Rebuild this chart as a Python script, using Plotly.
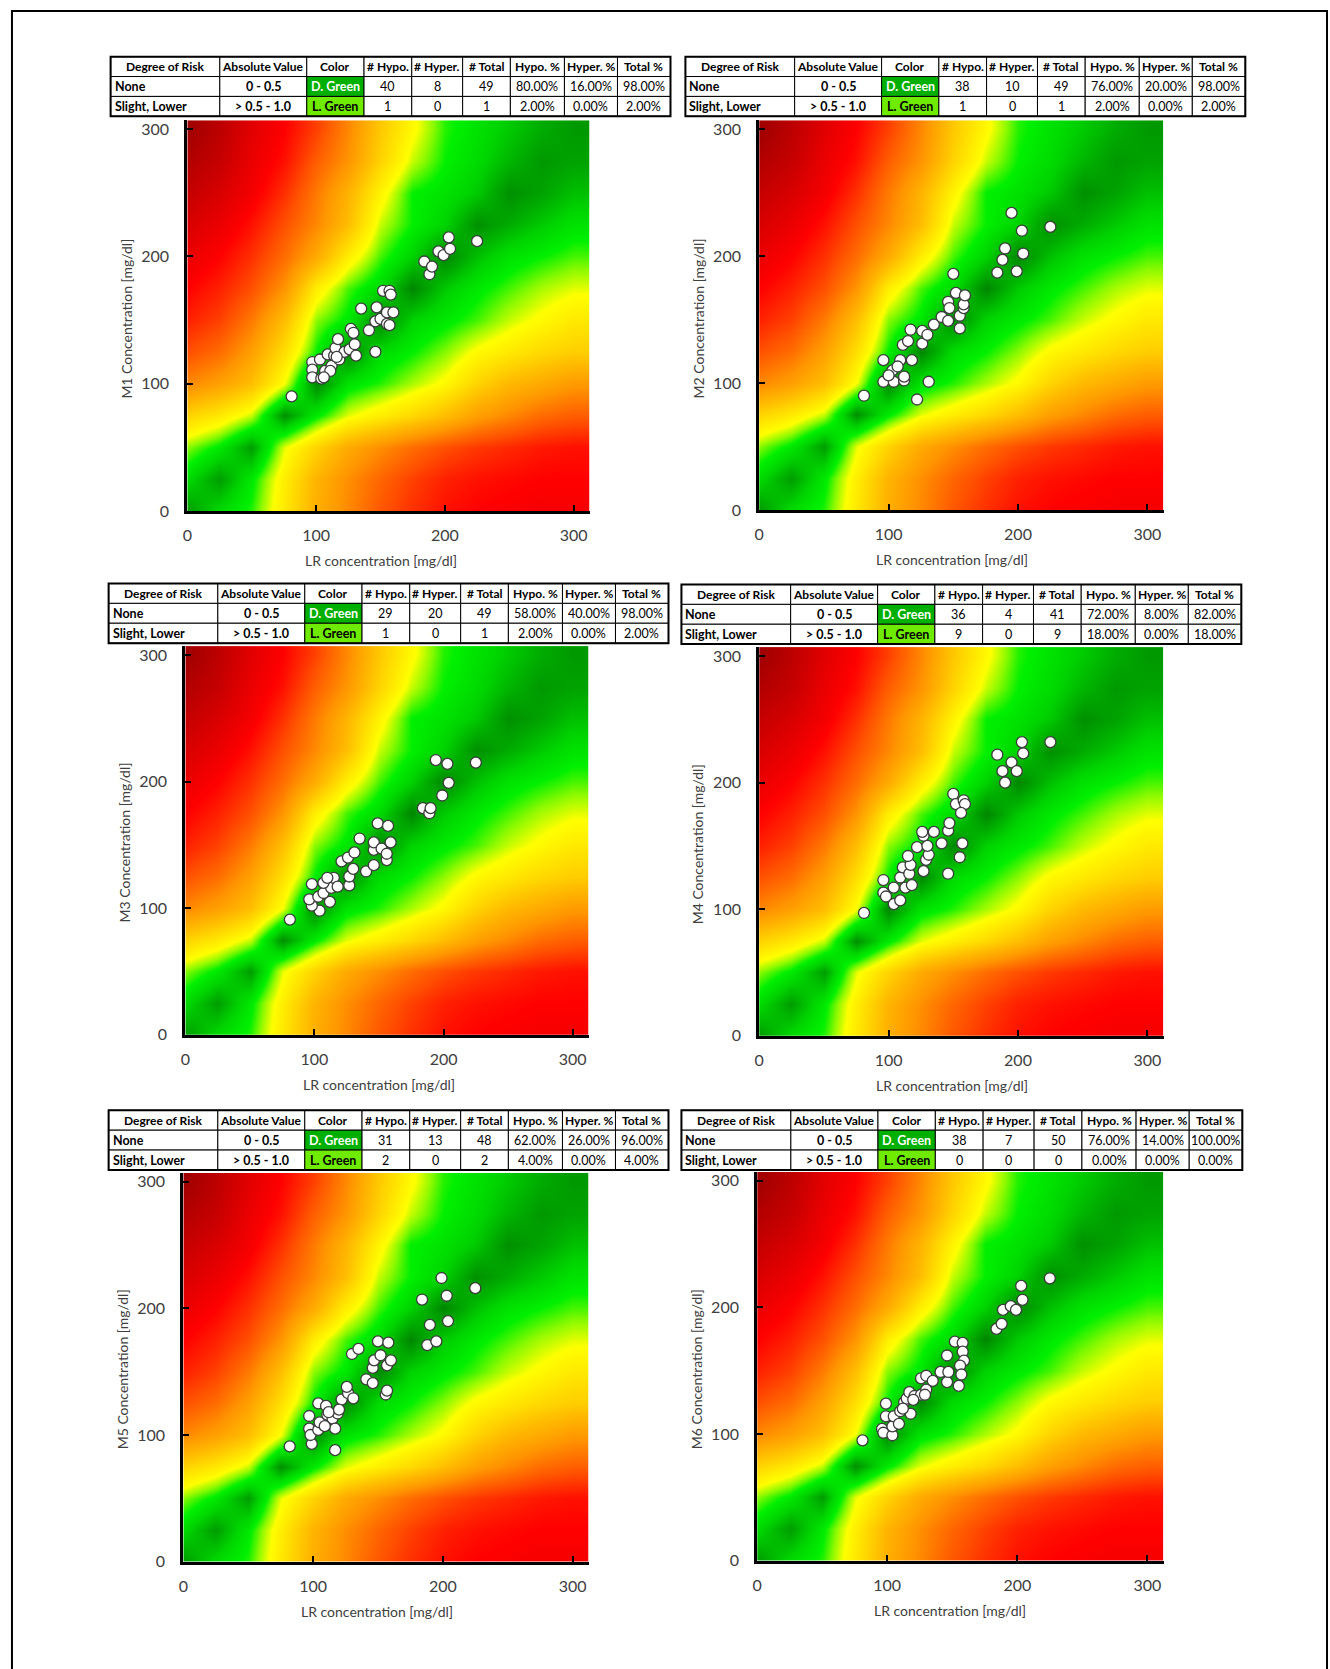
import plotly.graph_objects as go

W, H = 1330, 1669

# ---------------- data ----------------
models = ["M1", "M2", "M3", "M4", "M5", "M6"]

m1_x = [81, 97, 97, 97, 103, 104, 107, 109, 112, 114, 115, 117, 118, 122, 126, 127, 129, 130, 131, 135, 141, 146, 146, 147, 150, 152, 155, 155, 157, 158, 160, 157, 184, 188, 190, 195, 199, 203, 204, 225, 116, 111, 106]
m1_y = [90, 117, 111, 105, 119, 104, 110, 123, 114, 122, 128, 135, 119, 125, 127, 143, 140, 131, 122, 159, 142, 125, 149, 160, 151, 173, 147, 156, 173, 170, 156, 146, 196, 186, 192, 204, 201, 215, 206, 212, 121, 110, 105]

m2_x = [81, 122, 96, 104, 112, 131, 96, 109, 118, 103, 112, 111, 115, 117, 126, 126, 130, 135, 141, 146, 146, 147, 150, 152, 155, 155, 158, 158, 159, 184, 188, 190, 199, 204, 203, 195, 225, 100, 107]
m2_y = [90, 87, 101, 101, 102, 101, 118, 118, 118, 110, 105, 130, 133, 142, 141, 131, 138, 146, 152, 149, 164, 159, 186, 171, 153, 143, 159, 162, 169, 187, 197, 206, 188, 202, 220, 234, 223, 106, 113]

m3_x = [81, 104, 98, 96, 103, 112, 98, 107, 113, 115, 118, 127, 127, 130, 121, 126, 131, 135, 140, 146, 146, 146, 152, 149, 157, 159, 156, 156, 184, 189, 190, 199, 204, 194, 203, 225, 107, 110]
m3_y = [91, 98, 102, 107, 109, 105, 119, 112, 116, 124, 117, 118, 125, 131, 137, 140, 144, 155, 129, 134, 146, 152, 147, 167, 165, 152, 138, 143, 179, 175, 179, 189, 199, 217, 214, 215, 120, 124]

m4_x = [81, 96, 96, 98, 104, 109, 104, 109, 111, 113, 118, 116, 117, 115, 122, 127, 129, 131, 130, 127, 135, 126, 141, 146, 146, 147, 155, 157, 150, 152, 158, 159, 156, 184, 188, 190, 195, 199, 204, 203, 225]
m4_y = [97, 113, 123, 110, 104, 107, 117, 125, 133, 117, 119, 128, 135, 142, 149, 130, 139, 143, 150, 158, 161, 161, 152, 128, 162, 168, 141, 152, 191, 183, 186, 183, 176, 222, 209, 200, 216, 209, 223, 232, 232]

m5_x = [82, 99, 117, 97, 98, 104, 105, 97, 104, 110, 111, 115, 119, 117, 109, 122, 127, 131, 126, 130, 135, 141, 146, 146, 147, 152, 150, 158, 157, 160, 156, 157, 184, 188, 190, 195, 204, 203, 199, 225, 112, 120]
m5_y = [91, 93, 88, 105, 100, 104, 110, 115, 125, 123, 116, 113, 117, 105, 107, 128, 133, 129, 138, 164, 168, 144, 141, 153, 159, 163, 174, 173, 155, 159, 132, 135, 207, 171, 187, 174, 190, 210, 224, 216, 118, 120]

m6_x = [81, 96, 97, 104, 99, 99, 104, 105, 109, 110, 113, 115, 117, 118, 121, 126, 126, 130, 130, 129, 135, 141, 146, 147, 146, 152, 158, 158, 159, 156, 157, 155, 184, 188, 189, 195, 199, 204, 203, 225, 112, 120]
m6_y = [95, 104, 101, 99, 114, 124, 106, 114, 108, 118, 125, 128, 133, 116, 130, 131, 144, 146, 135, 131, 142, 149, 141, 149, 162, 173, 172, 165, 158, 154, 147, 138, 183, 187, 198, 201, 198, 206, 217, 223, 120, 127]

# risk surface on a 25 mg/dl grid
risk_x = [0, 25, 50, 75, 100, 125, 150, 175, 200, 225, 250, 275, 300]
risk_y = [0, 25, 50, 75, 100, 125, 150, 175, 200, 225, 250, 275, 300]
risk_z = [
    [0.1, 0.45, 0.65, 1.2, 1.75, 2.1, 2.45, 2.7, 2.9, 3.0, 3.05, 3.1, 3.1],
    [0.45, 0.12, 0.55, 1.15, 1.7, 2.05, 2.35, 2.6, 2.8, 2.9, 2.95, 3.0, 3.0],
    [0.8, 0.55, 0.12, 0.95, 1.4, 1.8, 2.05, 2.3, 2.5, 2.65, 2.75, 2.85, 2.9],
    [1.4, 1.2, 0.9, 0.05, 0.55, 0.95, 1.15, 1.35, 1.6, 1.9, 2.1, 2.3, 2.4],
    [2.1, 1.9, 1.6, 1.0, 0.0, 0.5, 0.65, 0.85, 1.05, 1.4, 1.65, 1.8, 1.95],
    [2.5, 2.3, 1.9, 1.3, 0.6, 0.0, 0.45, 0.6, 0.8, 1.05, 1.2, 1.35, 1.45],
    [2.8, 2.6, 2.2, 1.6, 0.8, 0.55, 0.0, 0.4, 0.55, 0.7, 0.9, 1.05, 1.2],
    [3.0, 2.8, 2.5, 2.0, 1.15, 0.7, 0.45, 0.0, 0.35, 0.55, 0.7, 0.85, 0.95],
    [3.2, 3.0, 2.7, 2.3, 1.8, 1.15, 0.7, 0.4, 0.0, 0.3, 0.5, 0.6, 0.7],
    [3.4, 3.2, 2.9, 2.5, 2.1, 1.6, 0.9, 0.6, 0.4, 0.05, 0.2, 0.35, 0.5],
    [3.6, 3.4, 3.1, 2.7, 2.2, 1.7, 1.1, 0.6, 0.5, 0.35, 0.05, 0.15, 0.3],
    [3.8, 3.6, 3.2, 2.9, 2.4, 2.0, 1.4, 0.9, 0.6, 0.45, 0.25, 0.1, 0.15],
    [4.0, 3.7, 3.3, 3.0, 2.6, 2.1, 1.5, 1.05, 0.65, 0.5, 0.35, 0.2, 0.1],
]

tick_vals = [0, 100, 200, 300]

# table values
table_header = ["Degree of Risk", "Absolute Value", "Color", "# Hypo.", "# Hyper.", "# Total", "Hypo. %", "Hyper. %", "Total %"]
risk_degree = ["None", "Slight, Lower"]
abs_value = ["0 - 0.5", "> 0.5 - 1.0"]
color_name = ["D. Green", "L. Green"]
none_hypo = [40, 38, 29, 36, 31, 38]
none_hyper = [8, 10, 20, 4, 13, 7]
none_total = [49, 49, 49, 41, 48, 50]
none_hypo_pct = ["80.00%", "76.00%", "58.00%", "72.00%", "62.00%", "76.00%"]
none_hyper_pct = ["16.00%", "20.00%", "40.00%", "8.00%", "26.00%", "14.00%"]
none_total_pct = ["98.00%", "98.00%", "98.00%", "82.00%", "96.00%", "100.00%"]
slight_hypo = [1, 1, 1, 9, 2, 0]
slight_hyper = [0, 0, 0, 0, 0, 0]
slight_total = [1, 1, 1, 9, 2, 0]
slight_hypo_pct = ["2.00%", "2.00%", "2.00%", "18.00%", "4.00%", "0.00%"]
slight_hyper_pct = ["0.00%", "0.00%", "0.00%", "0.00%", "0.00%", "0.00%"]
slight_total_pct = ["2.00%", "2.00%", "2.00%", "18.00%", "4.00%", "0.00%"]

xs = [m1_x, m2_x, m3_x, m4_x, m5_x, m6_x]
ys = [m1_y, m2_y, m3_y, m4_y, m5_y, m6_y]

# ---------------- layout geometry (pixels) ----------------
plot_boxes = [(183, 587, 120, 513), (757, 1163, 120, 512),
              (181, 586, 649, 1040), (757, 1163, 650, 1041),
              (179, 586, 1179, 1570), (755, 1163, 1178, 1569)]
table_boxes = [(106, 668, 56, 116), (683, 1245, 56, 116),
               (104, 666, 586, 646), (679, 1241, 587, 647),
               (104, 666, 1116, 1176), (679, 1242, 1116, 1176)]
col_widths = [103, 82, 54, 45, 48, 45, 51, 50, 50]


def px(x):
    return x / W


def py(y):
    return 1 - y / H


colorscale = [
    [0.0, "rgb(0,135,0)"],
    [0.05, "rgb(0,172,0)"],
    [0.1, "rgb(0,212,0)"],
    [0.15, "rgb(0,240,0)"],
    [0.2, "rgb(140,250,0)"],
    [0.25, "rgb(255,255,0)"],
    [0.4, "rgb(255,190,0)"],
    [0.5, "rgb(255,150,0)"],
    [0.625, "rgb(255,80,0)"],
    [0.75, "rgb(255,0,0)"],
    [1.0, "rgb(160,0,0)"],
]

FONT = "Lato"
TXT = "#404040"

fig = go.Figure()
layout = dict(width=W, height=H, margin=dict(l=0, r=0, t=0, b=0),
              paper_bgcolor="white", plot_bgcolor="white", showlegend=False)
annotations = []
shapes = []

for i in range(6):
    n = i + 1
    xa = "x" if n == 1 else f"x{n}"
    ya = "y" if n == 1 else f"y{n}"
    xl, xr, yt, yb = plot_boxes[i]
    fig.add_trace(go.Heatmap(x=risk_x, y=risk_y, z=risk_z, zmin=0, zmax=4,
                             colorscale=colorscale, zsmooth="best", showscale=False,
                             hoverinfo="skip", xaxis=xa, yaxis=ya))
    fig.add_trace(go.Scatter(x=xs[i], y=ys[i], mode="markers", xaxis=xa, yaxis=ya,
                             marker=dict(size=11, color="white",
                                         line=dict(color="#3c3c3c", width=1.3))))
    axcommon = dict(showline=True, linecolor="black", linewidth=3, ticks="inside",
                    ticklen=6, tickwidth=2, tickcolor="black", tickvals=tick_vals,
                    showgrid=False, zeroline=False, fixedrange=True,
                    tickfont=dict(family=FONT, size=16, color=TXT))
    layout["xaxis" if n == 1 else f"xaxis{n}"] = dict(
        axcommon, domain=[px(xl), px(xr)], range=[0, 312.5], anchor=ya,
        ticklabelstandoff=8)
    layout["yaxis" if n == 1 else f"yaxis{n}"] = dict(
        axcommon, domain=[py(yb), py(yt)], range=[0, 307], anchor=xa,
        ticklabelstandoff=12)
    annotations.append(dict(text="LR concentration [mg/dl]", xref="paper", yref="paper",
                            x=px(xl + 194), y=py(yb + 50), showarrow=False,
                            font=dict(family=FONT, size=14, color=TXT),
                            xanchor="center", yanchor="middle"))
    annotations.append(dict(text=f"{models[i]} Concentration [mg/dl]", xref="paper", yref="paper",
                            x=px(xl - 61), y=py(yb - 193), showarrow=False, textangle=-90,
                            font=dict(family=FONT, size=14, color=TXT),
                            xanchor="center", yanchor="middle"))

    # ---- table drawn with cell rectangles and texts ----
    tl, tr, tt, tb = table_boxes[i]
    rows = [
        [f"<b>{h}</b>" for h in table_header],
        [f"<b>{risk_degree[0]}</b>", f"<b>{abs_value[0]}</b>", f"<b>{color_name[0]}</b>",
         none_hypo[i], none_hyper[i], none_total[i],
         none_hypo_pct[i], none_hyper_pct[i], none_total_pct[i]],
        [f"<b>{risk_degree[1]}</b>", f"<b>{abs_value[1]}</b>", f"<b>{color_name[1]}</b>",
         slight_hypo[i], slight_hyper[i], slight_total[i],
         slight_hypo_pct[i], slight_hyper_pct[i], slight_total_pct[i]],
    ]
    scale = (tr - tl) / sum(col_widths)
    edges = [tl]
    for w in col_widths:
        edges.append(edges[-1] + w * scale)
    rh = (tb - tt) / 3
    for r in range(3):
        y0 = tt + r * rh
        y1 = y0 + rh
        for c in range(9):
            x0, x1 = edges[c], edges[c + 1]
            fill = "white"
            tcol = "black"
            if c == 2 and r == 1:
                fill, tcol = "rgb(0,176,0)", "white"
            elif c == 2 and r == 2:
                fill = "rgb(110,235,0)"
            shapes.append(dict(type="rect", xref="paper", yref="paper", layer="above",
                               x0=px(x0), x1=px(x1), y0=py(y1), y1=py(y0),
                               fillcolor=fill, line=dict(color="black", width=1)))
            if c == 0 and r > 0:
                ax, anc = x0 + 2, "left"
            else:
                ax, anc = (x0 + x1) / 2, "center"
            fsize = 12 if r == 0 else 12.5
            annotations.append(dict(text=str(rows[r][c]), xref="paper", yref="paper",
                                    x=px(ax), y=py((y0 + y1) / 2), showarrow=False,
                                    xanchor=anc, yanchor="middle",
                                    font=dict(family=FONT, size=fsize, color=tcol)))
    shapes.append(dict(type="rect", xref="paper", yref="paper", layer="above",
                       x0=px(tl), x1=px(tr), y0=py(tb), y1=py(tt),
                       line=dict(color="black", width=2)))

# outer frame
shapes.append(dict(type="rect", xref="paper", yref="paper",
                   x0=px(7), x1=px(1327), y0=py(1690), y1=py(10),
                   line=dict(color="black", width=2)))

layout["annotations"] = annotations
layout["shapes"] = shapes
fig.update_layout(**layout)
fig.write_html("out.html")
